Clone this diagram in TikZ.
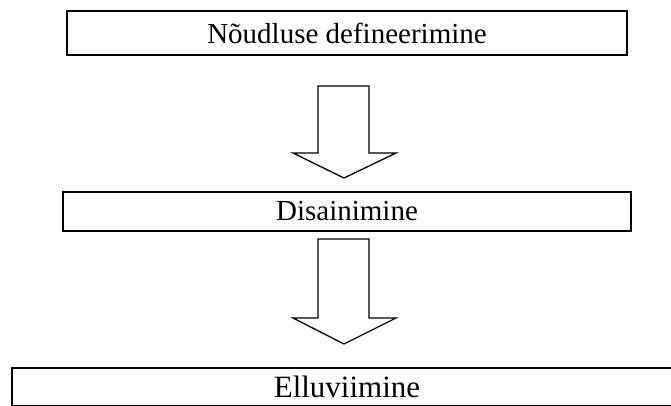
\documentclass[tikz,border=0pt]{standalone}
\usepackage{fontspec}
\setmainfont{Liberation Serif}
\begin{document}
\begin{tikzpicture}[x=1pt,y=-1pt,
  box/.style={draw, line width=2pt, inner sep=0pt, anchor=center},
  lbl/.style={font=\fontsize{29}{34}\selectfont},
  blockarrow/.style={draw, line width=1.3pt, line join=miter}]
\useasboundingbox (0,0) rectangle (671,405);
\node[box, lbl, minimum width=560pt, minimum height=44pt] (n1) at (347,33) {Nõudluse defineerimine};
\node[box, lbl, minimum width=568pt, minimum height=39pt] (n2) at (347,211.5) {Disainimine};
\node[box, font=\fontsize{31}{36}\selectfont, minimum width=670pt, minimum height=38pt] (n3) at (347,387) {Elluviimine};
\draw[blockarrow] (318,86) -- (369,86) -- (369,153) -- (396,153) -- (344,178) -- (293,153) -- (318,153) -- cycle;
\draw[blockarrow] (318,239) -- (369,239) -- (369,318) -- (396,318) -- (344,344) -- (293,318) -- (318,318) -- cycle;
\end{tikzpicture}
\end{document}
